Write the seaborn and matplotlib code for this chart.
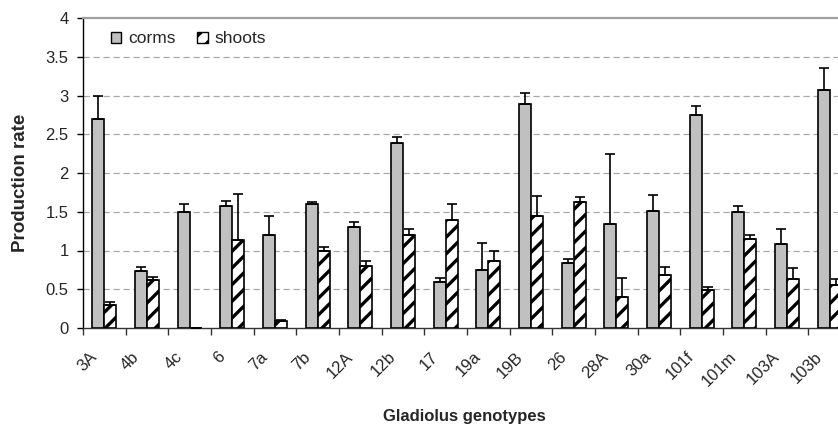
import matplotlib
matplotlib.use("Agg")
import matplotlib.pyplot as plt
import matplotlib.transforms as mtransforms
from matplotlib.patches import Patch
import numpy as np
import pandas as pd
import seaborn as sns

# Gladiolus genotypes and mean production rates (with upper error)
genotypes = ["3A", "4b", "4c", "6", "7a", "7b", "12A", "12b", "17", "19a",
             "19B", "26", "28A", "30a", "101f", "101m", "103A", "103b"]
corms = [2.70, 0.74, 1.50, 1.57, 1.20, 1.60, 1.30, 2.39, 0.59, 0.75,
         2.89, 0.84, 1.34, 1.51, 2.75, 1.50, 1.09, 3.07]
corms_err = [0.30, 0.05, 0.10, 0.07, 0.24, 0.03, 0.07, 0.07, 0.05, 0.35,
             0.14, 0.05, 0.91, 0.20, 0.12, 0.07, 0.19, 0.29]
shoots = [0.30, 0.62, 0.00, 1.13, 0.09, 1.00, 0.80, 1.20, 1.40, 0.87,
          1.44, 1.63, 0.40, 0.69, 0.49, 1.15, 0.63, 0.56]
shoots_err = [0.03, 0.04, 0.00, 0.60, 0.01, 0.04, 0.06, 0.08, 0.20, 0.13,
              0.26, 0.06, 0.25, 0.10, 0.04, 0.05, 0.15, 0.07]
parts = ["corms", "shoots"]

df = pd.DataFrame({
    "genotype": genotypes * 2,
    "rate": corms + shoots,
    "err": corms_err + shoots_err,
    "part": [parts[0]] * len(genotypes) + [parts[1]] * len(genotypes),
})

sns.set_style("white")
plt.rcParams["font.family"] = ["Liberation Sans", "DejaVu Sans"]
plt.rcParams["hatch.linewidth"] = 2.4

W, H = 838, 425
fig = plt.figure(figsize=(W / 100, H / 100), dpi=100)
ax = fig.add_axes([83 / W, 97 / H, 768 / W, 310 / H])

colors = {"corms": "#c0c0c0", "shoots": "white"}
sns.barplot(data=df, x="genotype", y="rate", hue="part", hue_order=parts,
            order=genotypes, palette=colors, saturation=1, width=0.57,
            edgecolor="black", linewidth=1.2, errorbar=None, legend=False,
            ax=ax, zorder=3)

# hatch the shoot bars and add upper error bars
for cont, part in zip(ax.containers, parts):
    sub = df[df["part"] == part].set_index("genotype").loc[genotypes]
    xs, ys = [], []
    for bar in cont:
        if part == "shoots":
            bar.set_hatch("//")
        xs.append(bar.get_x() + bar.get_width() / 2)
        ys.append(bar.get_height())
    errs = sub["err"].to_numpy()
    ax.errorbar(xs, ys, yerr=[np.zeros_like(errs), errs], fmt="none",
                ecolor="black", elinewidth=1.2, capsize=3.4, capthick=1.2,
                zorder=4)

ax.set_xlim(-0.5, len(genotypes) - 0.5)
ax.set_ylim(0, 4)
ax.set_yticks(np.arange(0, 4.01, 0.5))
ax.set_yticklabels(["0", "0.5", "1", "1.5", "2", "2.5", "3", "3.5", "4"])

# dashed horizontal gridlines
for yv in np.arange(0.5, 3.6, 0.5):
    ax.axhline(yv, color="#a8a8a8", lw=0.9, ls=(0, (5, 3)), zorder=1)

# spines
ax.spines["left"].set_color("black")
ax.spines["left"].set_linewidth(1.0)
ax.spines["bottom"].set_color("#333333")
ax.spines["bottom"].set_linewidth(1.0)
ax.spines["top"].set_color("#a0a0a0")
ax.spines["top"].set_linewidth(1.6)
ax.spines["right"].set_visible(False)

# ticks: y outward, x tick marks at category boundaries
ax.tick_params(axis="y", direction="out", length=4.3, width=1.0, color="black",
               labelsize=12, pad=6, left=True)
ax.set_xticks(np.arange(len(genotypes)))
ax.set_xticklabels(genotypes)
ax.set_xticks(np.arange(len(genotypes) + 1) - 0.5, minor=True)
ax.tick_params(axis="x", which="minor", direction="out", length=5, width=1.0,
               color="#333333", bottom=True)
ax.tick_params(axis="x", which="major", length=0, labelsize=12, pad=19)
offset = mtransforms.ScaledTranslation(-10 / 100, 0, fig.dpi_scale_trans)
for lab in ax.get_xticklabels():
    lab.set_rotation(45)
    lab.set_ha("right")
    lab.set_va("center")
    lab.set_rotation_mode("anchor")
    lab.set_transform(lab.get_transform() + offset)

ax.set_xlabel("Gladiolus genotypes", fontsize=12, fontweight="bold")
ax.xaxis.set_label_coords(0.496, -0.262)
ax.set_ylabel("Production rate", fontsize=13.5, fontweight="bold")
ax.yaxis.set_label_coords(-0.070, 0.468)

handles = [Patch(facecolor="#c0c0c0", edgecolor="black", lw=1.0, label="corms"),
           Patch(facecolor="white", edgecolor="black", lw=1.0, hatch="//",
                 label="shoots")]
ax.legend(handles=handles, loc="upper left", bbox_to_anchor=(0.027, 0.979),
          borderaxespad=0, ncol=2, frameon=False, fontsize=12.5,
          handlelength=0.6, handleheight=0.6, handletextpad=0.4,
          columnspacing=1.25)

fig.savefig("out.png", dpi=100)
